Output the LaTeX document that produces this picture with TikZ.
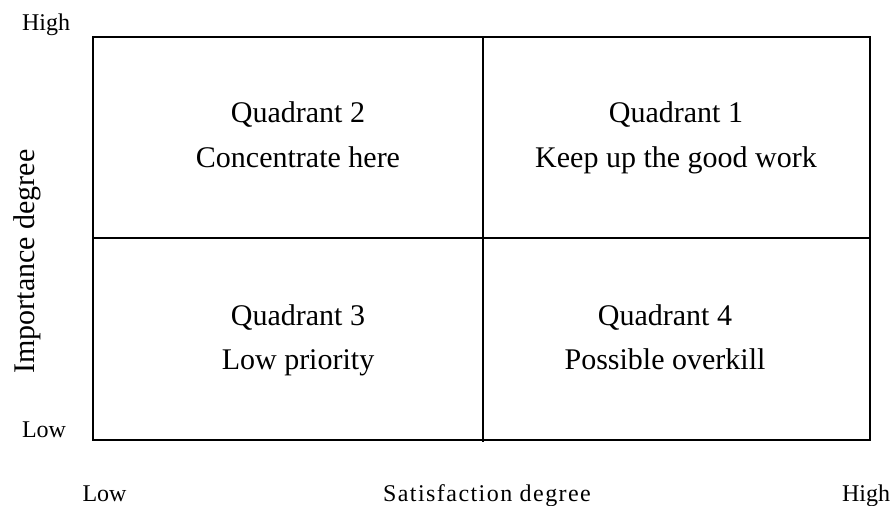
\documentclass[tikz,border=0pt]{standalone}
\usepackage{fontspec}
\setmainfont{Liberation Serif}
\newfontfamily\spacedserif[LetterSpace=6]{Liberation Serif}
\begin{document}
\begin{tikzpicture}[x=0.75pt,y=-0.75pt,
  quadtext/.style={font=\fontsize{22.5}{27}\selectfont, anchor=base, inner sep=0pt},
  ticktext/.style={font=\fontsize{18}{22}\selectfont, anchor=base, inner sep=0pt},
  gridline/.style={line width=1.2pt, black}]
  \useasboundingbox (0,0) rectangle (894,506);

  % outer frame and the two dividing lines
  \draw[gridline] (93,37) rectangle (870,440);
  \draw[gridline] (483,37) -- (483,442);
  \draw[gridline] (93,238) -- (870,238);

  % quadrant captions
  \node[quadtext] (q2a) at (298,123) {Quadrant 2};
  \node[quadtext] (q2b) at (298,168) {Concentrate here};
  \node[quadtext] (q1a) at (676,123) {Quadrant 1};
  \node[quadtext] (q1b) at (676,168) {Keep up the good work};
  \node[quadtext] (q3a) at (298,325.5) {Quadrant 3};
  \node[quadtext] (q3b) at (298,370) {Low priority};
  \node[quadtext] (q4a) at (665,325.5) {Quadrant 4};
  \node[quadtext] (q4b) at (665,370) {Possible overkill};

  % vertical axis
  \node[ticktext] (yhigh) at (46,31) {High};
  \node[ticktext] (ylow) at (44,437) {Low};
  \node[quadtext, rotate=90] (ytitle) at (34,261.5) {Importance degree};

  % horizontal axis
  \node[ticktext] (xlow) at (104.5,501) {Low};
  \node[ticktext, font=\fontsize{18}{22}\spacedserif] (xtitle) at (487,501) {Satisfaction degree};
  \node[ticktext] (xhigh) at (866,501) {High};
\end{tikzpicture}
\end{document}
